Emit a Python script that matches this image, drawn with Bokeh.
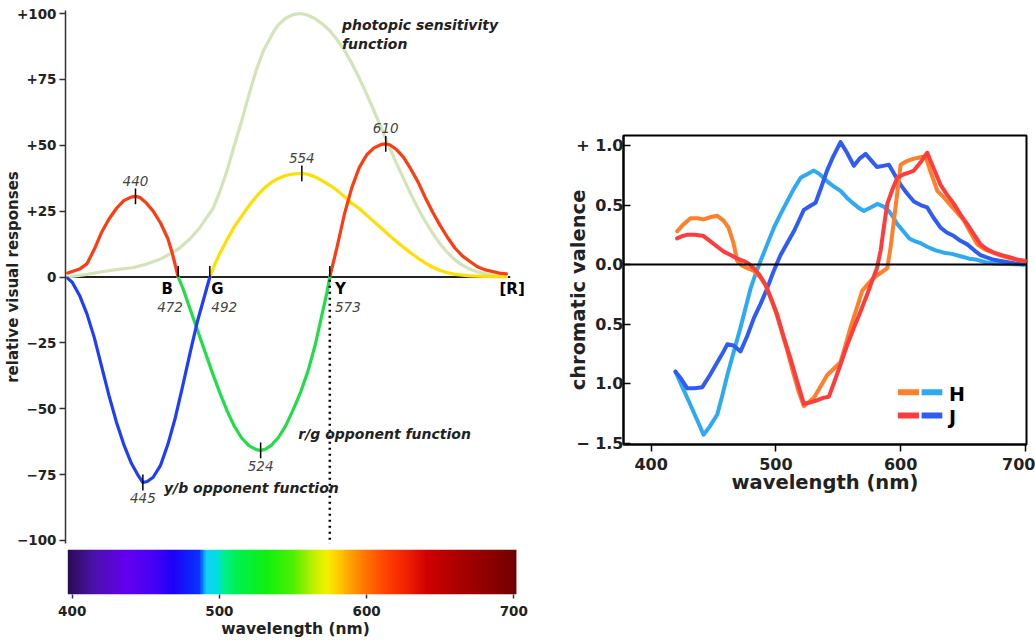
import numpy as np
from bokeh.plotting import figure
from bokeh.models import Range1d, FixedTicker, Span
from bokeh.layouts import row, column
from bokeh.embed import file_html
from bokeh.resources import INLINE
from bokeh.core.properties import value

FONT = "DejaVu Sans"

# ---------------- left panel data ----------------
y_ticks = [-100, -75, -50, -25, 0, 25, 50, 75, 100]
y_tick_labels = ["\u2212100", "\u221275", "\u221250", "\u221225", "0", "+25", "+50", "+75", "+100"]
x_ticks = [400, 500, 600, 700]

photopic_wl = [397, 410, 420, 430, 441, 450, 459.5, 465, 473, 480, 486.7, 490, 495.7, 500, 505, 509,
               515, 520, 525, 530, 536.7, 540, 545, 550, 555, 560, 565, 570, 575, 580, 585, 590,
               595, 600, 605, 610, 615, 620, 625, 630, 635, 640, 645, 650, 655, 660, 665, 670,
               675, 680, 690, 695]
photopic_v = [0, 1, 2, 2.8, 3.5, 4.8, 6.7, 8.3, 11, 14.5, 18.7, 21.5, 26, 32, 40, 47.8,
              59, 69, 78.5, 86, 93, 95.7, 98.2, 99.6, 100, 99.4, 98, 96, 93.5, 90, 86, 81,
              75.5, 69.5, 63, 56.5, 50, 43.5, 37.5, 31.5, 26, 21, 16.5, 12.5, 9.2, 6.5, 4.5, 3,
              2, 1.3, 0.5, 0.3]

red_short_wl = [397, 405, 410, 415, 420, 425, 430, 435, 440, 443, 446, 450, 455, 460, 465, 468, 472]
red_short_v = [1.5, 3, 5, 10.5, 17, 22, 26, 29, 30.3, 30.6, 30.2, 28.3, 25, 20.5, 14.5, 9, 0]

red_long_wl = [575, 580, 585, 590, 595, 600, 605, 610, 613, 616, 620, 625, 630, 635, 640, 645,
               650, 655, 660, 665, 670, 675, 680, 690, 695]
red_long_v = [0, 11.5, 24, 34, 41.5, 46.3, 49, 50.3, 50.5, 50.1, 48.5, 45.5, 41, 36, 30, 24.5,
              19.5, 15, 11, 8, 6, 4, 2.8, 1.5, 1.2]

yellow_wl = [493.5, 497, 500, 505, 510, 515, 520, 525, 530, 535, 540, 545, 550, 556, 560, 565,
             570, 575, 580, 585, 590, 595, 600, 605, 610, 615, 620, 625, 630, 635, 640, 645,
             650, 655, 660, 670, 680, 695]
yellow_v = [0, 5, 8.6, 14, 19, 23, 27, 30.5, 33.5, 35.8, 37.4, 38.5, 39.1, 39.3, 39, 38,
            36.5, 34.8, 32.8, 30.5, 28, 26, 23.5, 21, 18.5, 16, 13.6, 11.3, 9.1, 7.1, 5.3, 3.7,
            2.5, 1.6, 1, 0.4, 0.2, 0]

blue_wl = [397, 400, 405, 410, 415, 420, 425, 430, 435, 440, 445, 448, 451, 455, 460, 465, 470,
           475, 480, 485, 490, 493.5]
blue_v = [-0.5, -2, -7, -14, -23, -34, -45, -55, -63.5, -70.5, -75.5, -78, -77.6, -76, -71.5,
          -63.5, -53.5, -41.5, -29, -17, -7, 0]

green_wl = [472, 475, 480, 485, 490, 495, 500, 505, 510, 515, 520, 525, 528, 531, 535, 540, 545,
            550, 555, 560, 565, 570, 573, 575]
green_v = [0, -4, -12, -20, -28, -36, -43.5, -50.5, -56.5, -61, -64, -65.5, -65.8, -65.4, -64,
           -61, -56.5, -50.5, -44, -36, -26, -13.5, -6, 0]

crossing_wl = [472, 493.5, 575]
crossing_names = ["B", "G", "Y"]
crossing_labels = ["472", "492", "573"]
peak_labels = ["440", "554", "610", "445", "524"]

# spectrum colour stops (style)
spec_stop_wl = [397, 414, 437, 455, 468.5, 482, 486, 489, 491, 498, 502.5, 511.6, 532, 550,
                563.8, 573, 579.8, 588.8, 600.2, 613.8, 627.4, 641, 659, 682, 701.8]
spec_stop_col = ["#2b0c55", "#4a12a8", "#6400f0", "#4800f5", "#2000f8", "#0a28ff", "#1030ff",
                 "#0a90f8", "#10d4f0", "#00dfe8", "#00f090", "#00f050", "#10f010", "#50f000",
                 "#c0f000", "#f6f000", "#ffd000", "#ffa000", "#ff7000", "#ff4000", "#f02000",
                 "#d00000", "#b00000", "#900000", "#700000"]

# ---------------- right panel data ----------------
rv_ticks = [-1.5, -1.0, -0.5, 0.0, 0.5, 1.0]
rv_labels = ["\u2212 1.5", "1.0", "0.5", "0.0", "0.5", "+ 1.0"]
rx_ticks = [400, 500, 600, 700]

h_orange_wl = [420.8, 426, 431.5, 437, 442, 448, 453, 458, 462, 466, 469, 473, 477, 482, 487.7,
               492, 495.7, 500, 503.7, 509, 514.4, 518, 522.4, 526, 530.4, 535, 541, 546, 551.8,
               556, 559.8, 565, 569.2, 574, 578.6, 584, 589.3, 592, 594.6, 597.5, 600, 605,
               610.6, 615, 620, 624, 629.4, 635, 640, 645, 650.7, 656, 661.4, 667, 672, 679,
               685.5, 693, 700]
h_orange_v = [0.28, 0.34, 0.39, 0.39, 0.38, 0.40, 0.41, 0.37, 0.31, 0.18, 0.03, -0.01, -0.03,
              -0.05, -0.11, -0.18, -0.28, -0.40, -0.53, -0.72, -0.93, -1.06, -1.19, -1.16, -1.12,
              -1.04, -0.93, -0.88, -0.82, -0.67, -0.53, -0.36, -0.22, -0.16, -0.11, -0.07, -0.03,
              0.15, 0.37, 0.62, 0.84, 0.87, 0.89, 0.90, 0.91, 0.78, 0.62, 0.56, 0.50, 0.44, 0.37,
              0.27, 0.17, 0.13, 0.11, 0.08, 0.06, 0.04, 0.03]

j_red_wl = [420.8, 425, 428.9, 435, 442, 447, 453, 458, 463.6, 469, 474.3, 478, 482.3, 487,
            491.7, 496, 501, 506, 511.7, 517, 522.4, 527, 533, 538, 542.5, 547, 551.8, 557,
            562.5, 568, 573.2, 577, 581, 584, 587, 589.3, 593, 597.3, 602.6, 606, 610.6, 616,
            621.3, 626, 632, 637, 642.7, 648, 653.4, 659, 664, 669, 674.8, 681, 688, 694, 700]
j_red_v = [0.22, 0.24, 0.25, 0.25, 0.24, 0.20, 0.15, 0.11, 0.08, 0.05, 0.03, 0.01, -0.03, -0.09,
           -0.17, -0.28, -0.42, -0.60, -0.79, -0.98, -1.17, -1.16, -1.14, -1.12, -1.11, -0.98,
           -0.84, -0.68, -0.53, -0.39, -0.25, -0.14, -0.03, 0.12, 0.35, 0.51, 0.62, 0.73, 0.76,
           0.77, 0.79, 0.86, 0.94, 0.82, 0.67, 0.59, 0.51, 0.42, 0.34, 0.25, 0.17, 0.13, 0.10,
           0.08, 0.06, 0.04, 0.03]

h_lblue_wl = [419.5, 425, 431.5, 437, 442, 447, 453, 457, 461, 466, 471.6, 476, 479.7, 484,
              487.7, 493, 498.4, 504, 509, 514, 519.8, 525, 530.4, 535, 541, 546, 551.8, 557,
              562.5, 566, 570.5, 576, 581.2, 586, 590.6, 594, 597.3, 603, 607, 610.6, 616,
              621.3, 628, 634.7, 641, 648, 655, 661.4, 668, 674.8, 686, 698.8]
h_lblue_v = [-0.90, -1.03, -1.18, -1.31, -1.43, -1.36, -1.26, -1.10, -0.93, -0.74, -0.53, -0.35,
             -0.20, -0.07, 0.03, 0.17, 0.31, 0.43, 0.53, 0.63, 0.73, 0.76, 0.79, 0.76, 0.70, 0.66,
             0.62, 0.56, 0.51, 0.48, 0.45, 0.48, 0.51, 0.49, 0.45, 0.40, 0.34, 0.27, 0.22, 0.20,
             0.18, 0.15, 0.12, 0.10, 0.09, 0.07, 0.05, 0.04, 0.02, 0.01, 0.005, 0.0]

j_blue_wl = [419.5, 424, 428.9, 435, 441, 447, 453, 457, 461, 466, 471.6, 477, 482.3, 487.7, 493,
             498, 503.7, 509, 514.4, 518, 522.4, 527, 531.8, 536, 541, 546, 551.8, 557, 562.5,
             567, 572, 576, 581, 586, 590.6, 595, 600, 605, 610.6, 616, 621.3, 626, 632, 637,
             642.7, 648, 653.4, 659, 664, 669, 674.8, 686, 698.8]
j_blue_v = [-0.90, -0.96, -1.04, -1.04, -1.03, -0.93, -0.82, -0.75, -0.67, -0.68, -0.73, -0.60,
            -0.45, -0.33, -0.20, -0.06, 0.08, 0.18, 0.28, 0.36, 0.46, 0.49, 0.52, 0.64, 0.79, 0.91,
            1.03, 0.94, 0.83, 0.89, 0.93, 0.88, 0.82, 0.83, 0.84, 0.76, 0.67, 0.60, 0.53, 0.50,
            0.48, 0.40, 0.31, 0.27, 0.24, 0.20, 0.17, 0.12, 0.08, 0.06, 0.04, 0.02, 0.0]

legend_names = ["H", "J"]

# ---------------- styles ----------------
C_PHOT = "#d3e4b7"
C_RED = "#ff3b10"
C_YEL = "#ffde00"
C_BLUE = "#1f3dff"
C_GREEN = "#22dd4a"
C_TEXT = "#222222"
C_NUM = "#444444"

H_ORANGE = "#ff7f2a"
H_LBLUE = "#2eaaf5"
J_RED = "#ff3c3c"
J_BLUE = "#2f5cf5"

LEFT_W = 548
BORDER_L = 65
BORDER_R = 23

# ---------------- left top panel ----------------
xr = Range1d(395.44, 707.96)
p1 = figure(width=LEFT_W, height=549, x_range=xr, y_range=Range1d(-101.14, 101.14),
            output_backend="svg", toolbar_location=None, x_axis_location=None,
            min_border_left=BORDER_L, min_border_right=BORDER_R, min_border_top=10, min_border_bottom=6)
p1.outline_line_color = None
p1.grid.visible = False
ya = p1.yaxis[0]
ya.ticker = FixedTicker(ticks=y_ticks)
ya.major_label_overrides = dict(zip(y_ticks, y_tick_labels))
ya.major_label_text_font = FONT
ya.major_label_text_font_style = "bold"
ya.major_label_text_font_size = "13.5px"
ya.major_label_text_color = C_TEXT
ya.major_tick_out = 6
ya.major_tick_in = 0
ya.minor_tick_out = 0
ya.minor_tick_in = 0
ya.major_label_standoff = 3
ya.axis_line_color = "#333333"
ya.axis_line_width = 1.5
ya.major_tick_line_color = "#333333"
ya.major_tick_line_width = 1.5
ya.axis_label = "relative visual responses"
ya.axis_label_text_font = FONT
ya.axis_label_text_font_style = "bold"
ya.axis_label_text_font_size = "15px"
ya.axis_label_text_color = C_TEXT
ya.axis_label_standoff = -8

ZERO_END = 697.6
p1.segment(x0=[xr.start], y0=[0], x1=[ZERO_END], y1=[0], line_color="#222222", line_width=1.8)

lw = 3.2
p1.line(photopic_wl, photopic_v, line_color=C_PHOT, line_width=lw, line_join="round", line_cap="round")
p1.line(yellow_wl, yellow_v, line_color=C_YEL, line_width=lw, line_join="round", line_cap="round")
p1.line(red_short_wl, red_short_v, line_color=C_RED, line_width=lw, line_join="round", line_cap="round")
p1.line(red_long_wl, red_long_v, line_color=C_RED, line_width=lw, line_join="round", line_cap="round")
p1.line(green_wl, green_v, line_color=C_GREEN, line_width=lw, line_join="round", line_cap="round")
p1.line(blue_wl, blue_v, line_color=C_BLUE, line_width=lw, line_join="round", line_cap="round")

# dotted line from Y down to the spectrum
p1.segment(x0=[crossing_wl[2]], y0=[-1], x1=[crossing_wl[2]], y1=[-104],
           line_color="black", line_width=2.5, line_dash="2 4")

# crossing ticks
p1.segment(x0=crossing_wl, y0=[0] * 3, x1=crossing_wl, y1=[4.2] * 3, line_color="black", line_width=1.5)

# peaks
peaks = []
for wl, v, mode in [(red_short_wl, red_short_v, 1), (yellow_wl, yellow_v, 1), (red_long_wl, red_long_v, 1),
                    (blue_wl, blue_v, -1), (green_wl, green_v, -1)]:
    arr = np.array(v) * mode
    i = int(np.argmax(arr))
    peaks.append((wl[i], v[i], mode))
px = [pk[0] for pk in peaks]
pv = [pk[1] for pk in peaks]
pm = [pk[2] for pk in peaks]
p1.segment(x0=px, y0=[v - 3 for v in pv], x1=px, y1=[v + 3 for v in pv], line_color="black", line_width=1.5)
p1.text(x=px, y=[v + 6 * m for v, m in zip(pv, pm)], text=peak_labels,
        text_font=value(FONT), text_font_style="italic", text_font_size="13.5px",
        text_color=C_NUM, text_align="center", text_baseline="middle")

# B G Y letters and numbers
name_x = [crossing_wl[0] - 3.5, crossing_wl[1] + 1, crossing_wl[2] + 3.5]
name_align = ["right", "left", "left"]
num_x = [crossing_wl[0] + 3.2, crossing_wl[1] + 1, crossing_wl[2] + 3.5]
for i in range(3):
    p1.text(x=[name_x[i]], y=[-4.7], text=[crossing_names[i]], text_font=value(FONT),
            text_font_style="bold", text_font_size="15px", text_color="black",
            text_align=name_align[i], text_baseline="middle")
    p1.text(x=[num_x[i]], y=[-11.2], text=[crossing_labels[i]], text_font=value(FONT),
            text_font_style="italic", text_font_size="13.5px", text_color=C_NUM,
            text_align=name_align[i] if i > 0 else "right", text_baseline="middle")
p1.text(x=[690.3], y=[-4.7], text=["[R]"], text_font=value(FONT), text_font_style="bold",
        text_font_size="15px", text_color="black", text_align="left", text_baseline="middle")

# function labels
lab_kw = dict(text_font=value(FONT), text_font_style="bold italic", text_font_size="14px",
              text_color=C_TEXT, text_align="left", text_baseline="alphabetic")
p1.text(x=[583.3], y=[95.5], text=["photopic sensitivity"], **lab_kw)
p1.text(x=[583.3], y=[88.5], text=["function"], **lab_kw)
p1.text(x=[553.6], y=[-59.7], text=["r/g opponent function"], **lab_kw)
p1.text(x=[462.3], y=[-80.0], text=["y/b opponent function"], **lab_kw)

# ---------------- spectrum strip ----------------
p2 = figure(width=LEFT_W, height=91, x_range=xr, y_range=Range1d(0, 1),
            output_backend="svg", toolbar_location=None, y_axis_location=None,
            min_border_left=BORDER_L, min_border_right=BORDER_R, min_border_top=0, min_border_bottom=46)
p2.outline_line_color = None
p2.grid.visible = False


def hex_rgb(h):
    return [int(h[i:i + 2], 16) for i in (1, 3, 5)]


stop_rgb = np.array([hex_rgb(c) for c in spec_stop_col], dtype=float)
n_px = 600
mids = spec_stop_wl[0] + (np.arange(n_px) + 0.5) * (spec_stop_wl[-1] - spec_stop_wl[0]) / n_px
img = np.empty((1, n_px), dtype=np.uint32)
view = img.view(dtype=np.uint8).reshape((1, n_px, 4))
for k in range(3):
    view[0, :, k] = np.interp(mids, spec_stop_wl, stop_rgb[:, k]).astype(np.uint8)
view[0, :, 3] = 255
p2.image_rgba(image=[img], x=spec_stop_wl[0], y=0, dw=spec_stop_wl[-1] - spec_stop_wl[0], dh=1)

xa = p2.xaxis[0]
xa.ticker = FixedTicker(ticks=x_ticks)
xa.major_label_text_font = FONT
xa.major_label_text_font_style = "bold"
xa.major_label_text_font_size = "13.5px"
xa.major_label_text_color = C_TEXT
xa.major_tick_out = 4
xa.major_tick_in = 0
xa.minor_tick_out = 0
xa.minor_tick_in = 0
xa.major_label_standoff = 7
xa.axis_line_color = None
xa.major_tick_line_color = "#333333"
xa.major_tick_line_width = 1.5
xa.axis_label = "wavelength (nm)"
xa.axis_label_text_font = FONT
xa.axis_label_text_font_style = "bold"
xa.axis_label_text_font_size = "15.5px"
xa.axis_label_text_color = C_TEXT
xa.axis_label_standoff = 1

# ---------------- right panel ----------------
p3 = figure(width=487, height=508, x_range=Range1d(377.8, 700.9), y_range=Range1d(-1.512, 1.085),
            output_backend="svg", toolbar_location=None,
            min_border_left=75, min_border_right=9, min_border_top=135, min_border_bottom=64)
p3.grid.visible = False
p3.outline_line_color = "black"
p3.outline_line_width = 2

rxa = p3.xaxis[0]
rxa.ticker = FixedTicker(ticks=rx_ticks)
rxa.major_label_text_font = FONT
rxa.major_label_text_font_style = "bold"
rxa.major_label_text_font_size = "16px"
rxa.major_label_text_color = C_TEXT
rxa.major_tick_out = 7
rxa.major_tick_in = 0
rxa.minor_tick_out = 0
rxa.minor_tick_in = 0
rxa.major_label_standoff = 6
rxa.axis_line_color = "black"
rxa.axis_line_width = 2
rxa.major_tick_line_color = "black"
rxa.major_tick_line_width = 1.5
rxa.axis_label = "wavelength (nm)"
rxa.axis_label_text_font = FONT
rxa.axis_label_text_font_style = "bold"
rxa.axis_label_text_font_size = "19.5px"
rxa.axis_label_text_color = C_TEXT
rxa.axis_label_standoff = -2

rya = p3.yaxis[0]
rya.ticker = FixedTicker(ticks=rv_ticks)
rya.major_label_overrides = dict(zip(rv_ticks, rv_labels))
rya.major_label_text_font = FONT
rya.major_label_text_font_style = "bold"
rya.major_label_text_font_size = "16px"
rya.major_label_text_color = C_TEXT
rya.major_tick_out = 0
rya.major_tick_in = 7
rya.minor_tick_out = 0
rya.minor_tick_in = 0
rya.major_label_standoff = 0
rya.axis_line_color = "black"
rya.axis_line_width = 2
rya.major_tick_line_color = "black"
rya.major_tick_line_width = 1.5
rya.axis_label = "chromatic valence"
rya.axis_label_text_font = FONT
rya.axis_label_text_font_style = "bold"
rya.axis_label_text_font_size = "19.5px"
rya.axis_label_text_color = C_TEXT
rya.axis_label_standoff = -17

p3.add_layout(Span(location=0, dimension="width", line_color="black", line_width=2))

rlw = 4
p3.line(h_lblue_wl, h_lblue_v, line_color=H_LBLUE, line_width=rlw, line_join="round", line_cap="round")
p3.line(j_blue_wl, j_blue_v, line_color=J_BLUE, line_width=rlw, line_join="round", line_cap="round")
p3.line(h_orange_wl, h_orange_v, line_color=H_ORANGE, line_width=rlw, line_join="round", line_cap="round")
p3.line(j_red_wl, j_red_v, line_color=J_RED, line_width=rlw, line_join="round", line_cap="round")

# legend swatches
leg_y = [-1.073, -1.269]
p3.segment(x0=[597.8] * 2, y0=leg_y, x1=[614.7] * 2, y1=leg_y, line_color=[H_ORANGE, J_RED], line_width=6)
p3.segment(x0=[616.8] * 2, y0=leg_y, x1=[633.4] * 2, y1=leg_y, line_color=[H_LBLUE, J_BLUE], line_width=6)
p3.text(x=[638.7] * 2, y=[-1.084, -1.283], text=legend_names, text_font=value(FONT),
        text_font_style="bold", text_font_size="19px", text_color="black",
        text_align="left", text_baseline="middle")

layout = row(column(p1, p2), p3)
open("out.html", "w").write(file_html(layout, INLINE))
